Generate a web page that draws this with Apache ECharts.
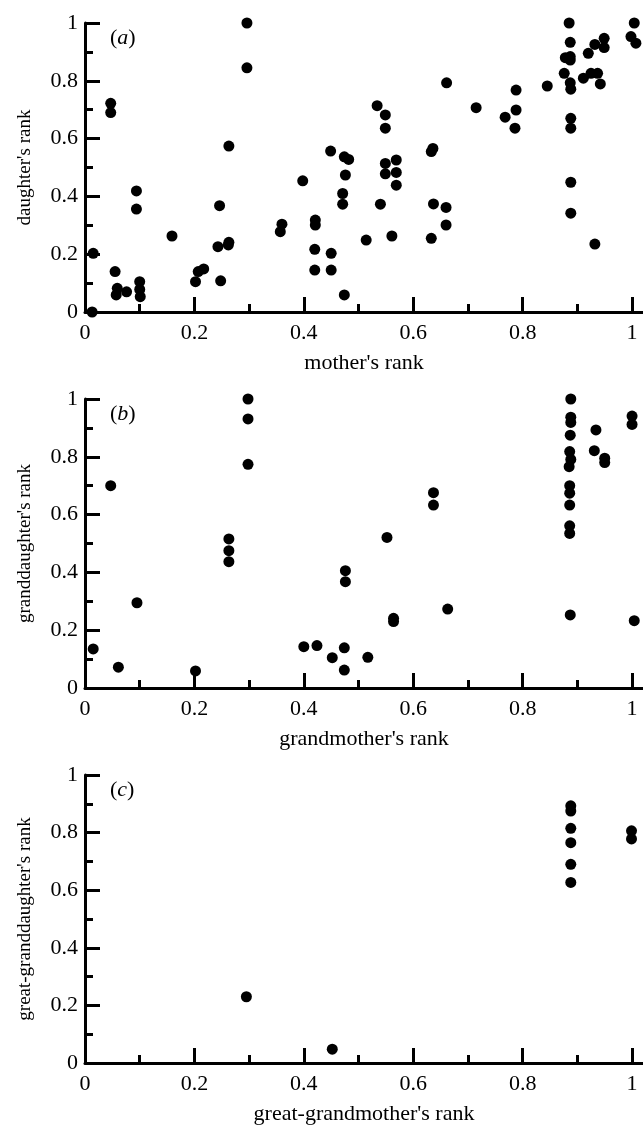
<!DOCTYPE html>
<html><head><meta charset="utf-8">
<script src="https://cdn.jsdelivr.net/npm/echarts@6/dist/echarts.min.js"></script>
<style>html,body{margin:0;padding:0;background:#fff}#c{width:643px;height:1127px}</style>
</head><body><div id="c"></div>
<script>
// (a) mother vs daughter
const motherRank = [0.015,0.013,0.047,0.047,0.055,0.057,0.059,0.076,0.094,0.094,0.1,0.1,0.101,0.159,0.202,0.207,0.217,0.246,0.243,0.248,0.263,0.262,0.263,0.296,0.296,
0.36,0.357,0.398,0.421,0.421,0.42,0.42,0.45,0.45,0.449,0.474,0.482,0.476,0.471,0.471,0.474,0.514,0.534,0.549,0.549,0.549,0.549,0.569,0.569,0.569,0.54,0.561,0.633,0.636,0.637,0.633,0.66,0.66,0.661,
0.715,0.768,0.788,0.788,0.786,0.845,0.885,0.887,0.878,0.887,0.887,0.876,0.887,0.888,0.888,0.888,0.888,0.888,0.92,0.932,0.949,0.949,0.911,0.925,0.937,0.942,0.932,1.004,0.998,1.007];
const daughterRank = [0.203,0.0,0.722,0.69,0.14,0.059,0.082,0.07,0.419,0.356,0.105,0.078,0.053,0.263,0.105,0.14,0.149,0.368,0.226,0.108,0.241,0.232,0.574,1.0,0.845,
0.304,0.278,0.454,0.318,0.301,0.217,0.145,0.203,0.145,0.557,0.537,0.528,0.474,0.41,0.373,0.059,0.249,0.714,0.682,0.636,0.514,0.478,0.526,0.483,0.439,0.373,0.263,0.555,0.566,0.374,0.255,0.362,0.301,0.793,
0.707,0.674,0.768,0.699,0.636,0.782,1.0,0.933,0.88,0.884,0.872,0.826,0.793,0.771,0.67,0.636,0.449,0.342,0.895,0.926,0.947,0.915,0.809,0.826,0.826,0.789,0.235,1.0,0.953,0.93];
// (b) grandmother vs granddaughter
const grandmotherRank = [0.015,0.047,0.061,0.095,0.202,0.263,0.263,0.263,0.298,0.298,0.298,0.4,0.424,0.452,0.474,0.474,0.476,0.476,0.517,0.552,0.564,0.564,0.637,0.637,0.663,
0.888,0.888,0.888,0.887,0.886,0.888,0.885,0.886,0.886,0.886,0.886,0.886,0.887,0.934,0.931,0.95,0.95,1.0,1.0,1.004];
const granddaughterRank = [0.135,0.7,0.072,0.295,0.059,0.516,0.475,0.437,1.0,0.931,0.774,0.143,0.147,0.105,0.139,0.062,0.406,0.368,0.106,0.521,0.241,0.23,0.676,0.633,0.273,
1.0,0.937,0.919,0.875,0.818,0.791,0.766,0.7,0.674,0.633,0.561,0.535,0.253,0.893,0.821,0.795,0.78,0.941,0.912,0.233];
// (c) great-grandmother vs great-granddaughter
const greatGrandmotherRank = [0.295,0.452,0.888,0.888,0.888,0.888,0.888,0.888,0.999,0.999];
const greatGranddaughterRank = [0.23,0.048,0.893,0.875,0.815,0.765,0.69,0.627,0.806,0.778];

const panelLetters = ['a','b','c'];
const xTitles = ["mother's rank","grandmother's rank","great-grandmother's rank"];
const yTitles = ["daughter's rank","granddaughter's rank","great-granddaughter's rank"];
const majorTicks = [0,0.2,0.4,0.6,0.8,1];
const minorTicks = [0.1,0.3,0.5,0.7,0.9];

const xs = [motherRank, grandmotherRank, greatGrandmotherRank];
const ys = [daughterRank, granddaughterRank, greatGranddaughterRank];

const FONT = 'Liberation Serif';
const FS = 22;
const tops = [23, 399, 775];
const heights = [289, 289, 288];
const fmt = v => { const r = Math.round(v*10)/10; return String(r); };

const grid = [], xAxis = [], yAxis = [], series = [], graphic = [];
for (let p = 0; p < 3; p++) {
  grid.push({left: 85, width: 559, top: tops[p], height: heights[p], containLabel: false});
  xAxis.push({
    type: 'value', gridIndex: p, min: 0, max: 1.02, position: 'bottom',
    axisLine: {show: true, onZero: false, lineStyle: {color: '#000', width: 3}},
    axisTick: {show: true, inside: true, length: 15, customValues: majorTicks, lineStyle: {color: '#000', width: 3}},
    axisLabel: {show: true, customValues: majorTicks, formatter: fmt, margin: 10, color: '#000', fontFamily: FONT, fontSize: FS},
    splitLine: {show: false},
    name: xTitles[p], nameLocation: 'middle', nameGap: 40,
    nameTextStyle: {color: '#000', fontFamily: FONT, fontSize: FS}
  });
  xAxis.push({
    type: 'value', gridIndex: p, min: 0, max: 1.02, position: 'bottom',
    axisLine: {show: false, onZero: false},
    axisTick: {show: true, inside: true, length: 8, customValues: minorTicks, lineStyle: {color: '#000', width: 3}},
    axisLabel: {show: false},
    splitLine: {show: false}
  });
  yAxis.push({
    type: 'value', gridIndex: p, min: 0, max: 1, interval: 0.2, position: 'left',
    axisLine: {show: true, onZero: false, lineStyle: {color: '#000', width: 3}},
    axisTick: {show: true, inside: true, length: 15, lineStyle: {color: '#000', width: 3}},
    minorTick: {show: true, splitNumber: 2, length: 8, lineStyle: {color: '#000', width: 3}},
    axisLabel: {formatter: fmt, margin: 7, color: '#000', fontFamily: FONT, fontSize: FS},
    splitLine: {show: false},
    name: yTitles[p], nameLocation: 'middle', nameGap: 50,
    nameTextStyle: {color: '#000', fontFamily: FONT, fontSize: 19}
  });
  series.push({
    type: 'scatter', xAxisIndex: 2*p, yAxisIndex: p, clip: false,
    symbol: 'circle', symbolSize: 11, itemStyle: {color: '#000', opacity: 1},
    emphasis: {disabled: true},
    data: xs[p].map((x, i) => [x, ys[p][i]])
  });
  graphic.push({
    type: 'text', left: 110, top: tops[p] + 4,
    style: {
      text: '{p|(}{i|' + panelLetters[p] + '}{p|)}',
      rich: {
        p: {fontFamily: FONT, fontSize: FS, fill: '#000'},
        i: {fontFamily: FONT, fontSize: FS, fontStyle: 'italic', fill: '#000'}
      }
    }
  });
}

const chart = echarts.init(document.getElementById('c'), null, {renderer: 'canvas'});
chart.setOption({animation: false, backgroundColor: '#fff', grid, xAxis, yAxis, series, graphic});
</script></body></html>
